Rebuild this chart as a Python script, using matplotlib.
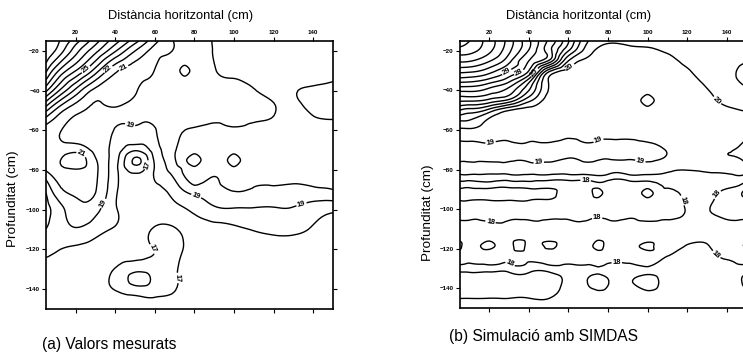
import numpy as np
import matplotlib
matplotlib.use('Agg')
import matplotlib.pyplot as plt
import matplotlib.tri as mtri

plt.rcParams['font.family'] = ['Liberation Sans', 'DejaVu Sans']

# grid nodes (cm)
x_nodes = [5, 10, 20, 30, 40, 50, 60, 70, 80, 90, 100, 110, 120, 130, 140, 150]

# ---- (a) Valors mesurats ----
depth_a = [-15, -20, -30, -40, -50, -60, -70, -80, -90, -100, -110, -120, -130, -140, -150]
values_a = [
    [32.0, 31.3, 29.4, 27.4, 25.4, 23.4, 21.3, 19.9, 19.5, 20.06, 20.5, 20.5, 20.5, 20.5, 20.5, 20.5],
    [31.7, 30.9, 28.4, 26.3, 24.1, 22.0, 20.6, 19.85, 19.5, 20.05, 20.5, 20.5, 20.5, 20.5, 20.5, 20.5],
    [30.2, 28.4, 26.0, 23.5, 21.2, 20.5, 19.95, 19.5, 19.5, 19.9, 20.3, 20.5, 20.5, 20.5, 20.5, 20.4],
    [27.2, 25.5, 22.7, 20.7, 20.5, 20.1, 19.5, 19.5, 19.5, 19.5, 19.5, 19.9, 20.4, 20.1, 19.8, 19.6],
    [23.2, 21.8, 20.3, 19.8, 19.8, 19.5, 19.5, 19.5, 19.5, 19.5, 19.5, 19.5, 19.9, 20.3, 19.8, 19.6],
    [20.5, 20.2, 19.6, 19.5, 18.95, 18.9, 18.95, 19.7, 20.2, 20.2, 20.2, 20.3, 20.45, 20.45, 20.45, 20.4],
    [20.6, 20.5, 20.7, 19.7, 18.6, 17.1, 18.5, 19.9, 20.45, 20.45, 20.45, 20.45, 20.45, 20.45, 20.45, 20.45],
    [20.1, 20.6, 20.9, 20.2, 18.3, 16.6, 18.1, 19.5, 20.4, 20.45, 20.4, 20.45, 20.45, 20.45, 20.45, 20.4],
    [18.15, 19.5, 20.15, 20.05, 18.2, 17.5, 17.6, 18.5, 19.5, 19.6, 20.1, 19.9, 19.8, 19.7, 19.8, 19.98],
    [17.75, 18.35, 19.6, 19.3, 18.1, 17.5, 17.4, 17.7, 18.2, 18.8, 18.9, 18.9, 18.9, 18.9, 18.5, 18.2],
    [18.02, 18.4, 18.9, 18.4, 17.9, 17.5, 16.9, 16.9, 17.5, 17.6, 17.8, 18.05, 18.2, 18.2, 17.9, 17.5],
    [18.3, 18.1, 17.8, 17.6, 17.4, 17.3, 16.95, 16.7, 17.5, 17.5, 17.5, 17.5, 17.6, 17.6, 17.5, 17.5],
    [17.5, 17.5, 17.5, 17.5, 16.95, 16.3, 16.5, 16.9, 17.5, 17.5, 17.5, 17.5, 17.5, 17.5, 17.5, 17.5],
    [17.5, 17.5, 17.5, 17.5, 16.95, 16.4, 16.5, 16.95, 17.5, 17.5, 17.5, 17.5, 17.5, 17.5, 17.5, 17.5],
    [17.5, 17.5, 17.5, 17.5, 17.5, 17.5, 17.5, 17.5, 17.5, 17.5, 17.5, 17.5, 17.5, 17.5, 17.5, 17.5],
]
# extra readings between the grid nodes (x, depth, value)
spots_a = [(75, -30, 20.3), (75, -25, 19.5), (75, -35, 19.5),
           (21, -76.5, 21.5),
           (80, -75, 19.5), (75, -75, 20.2), (85, -75, 20.45),
           (100, -75, 19.5), (95, -75, 20.45), (105, -75, 20.45),
           (51.5, -75.5, 15.8), (51, -135, 15.6)]
levels_a = list(range(15, 33))
label_pos_a = [(24.5, -28.6), (36, -28.6), (45, -30.5), (47, -59), (22.5, -72.6), (55.4, -77.5),
               (33.7, -96.7), (81.7, -91), (134, -97), (58.3, -120), (68.4, -134.7)]

# ---- (b) Simulació amb SIMDAS ----
depth_b = [-15, -20, -25, -30, -35, -40, -45, -50, -55, -60, -70, -74, -80, -84, -88, -92, -96,
           -101, -109, -114, -119, -123, -131, -137, -143, -150]
values_b = [
    [35.8, 35.0, 33.5, 31.5, 29.2, 26.8, 24.1, 21.0, 20.1, 20.2, 20.25, 20.3, 20.4, 20.5, 20.6, 20.7],
    [34.5, 34.3, 33.2, 31.2, 28.9, 26.5, 23.0, 20.4, 19.7, 19.8, 19.9, 20.05, 20.3, 20.5, 20.6, 20.8],
    [33.2, 33.1, 32.1, 30.3, 28.0, 25.9, 21.0, 19.8, 19.5, 19.6, 19.7, 19.85, 20.15, 20.4, 20.6, 20.9],
    [31.4, 31.3, 30.5, 29.0, 27.0, 21.5, 19.8, 19.5, 19.5, 19.5, 19.5, 19.7, 19.95, 20.3, 20.7, 21.4],
    [29.4, 29.3, 28.6, 27.3, 24.5, 19.95, 19.5, 19.5, 19.5, 19.5, 19.5, 19.6, 19.8, 20.15, 20.6, 21.3],
    [27.2, 27.2, 26.6, 25.6, 23.0, 19.95, 19.5, 19.5, 19.5, 19.5, 19.5, 19.5, 19.6, 19.95, 20.4, 20.8],
    [25.2, 25.2, 24.7, 23.7, 21.3, 19.6, 19.5, 19.5, 19.5, 19.5, 20.6, 19.5, 19.5, 19.75, 20.2, 20.4],
    [23.0, 22.6, 21.6, 20.05, 19.6, 19.5, 19.5, 19.5, 19.5, 19.5, 19.5, 19.5, 19.5, 19.6, 19.85, 20.05],
    [21.1, 21.0, 19.8, 19.5, 19.5, 19.5, 19.5, 19.5, 19.5, 19.5, 19.5, 19.5, 19.5, 19.5, 19.6, 19.7],
    [19.8, 19.85, 19.5, 19.5, 19.5, 19.5, 19.5, 19.5, 19.5, 19.5, 19.5, 19.5, 19.5, 19.5, 19.5, 19.5],
    [18.5, 18.5, 18.5, 18.5, 18.5, 18.5, 18.5, 18.5, 18.5, 18.5, 18.5, 19.05, 19.5, 19.5, 19.15, 18.5],
    [18.5, 18.5, 18.5, 18.5, 18.5, 18.5, 18.95, 18.5, 18.85, 18.8, 18.5, 19.1, 19.5, 19.5, 19.15, 18.5],
    [19.5, 19.5, 19.5, 19.5, 19.5, 19.5, 19.5, 19.5, 19.5, 19.5, 19.5, 19.3, 19.05, 19.3, 19.5, 19.3],
    [18.5, 18.5, 18.5, 18.5, 18.5, 18.5, 18.5, 18.5, 18.5, 18.5, 18.5, 18.5, 18.5, 18.5, 18.5, 18.5],
    [17.5, 17.35, 17.5, 17.35, 17.5, 17.35, 17.5, 17.5, 17.5, 17.5, 17.5, 18.15, 18.5, 18.5, 18.2, 17.5],
    [16.5, 16.5, 16.5, 16.5, 16.5, 16.7, 17.5, 17.5, 17.5, 17.5, 16.6, 17.7, 18.3, 18.35, 17.6, 16.5],
    [17.1, 17.1, 17.1, 17.1, 17.1, 17.1, 17.5, 17.5, 17.5, 17.5, 17.5, 17.6, 18.2, 18.2, 17.5, 17.3],
    [17.5, 17.5, 17.5, 17.5, 17.5, 17.5, 17.5, 17.5, 17.5, 17.5, 17.5, 17.5, 18.1, 18.1, 17.5, 17.5],
    [18.5, 18.5, 18.5, 18.5, 18.5, 18.5, 18.5, 18.5, 18.5, 18.5, 18.5, 18.5, 18.5, 18.5, 18.5, 18.5],
    [18.5, 18.5, 18.5, 18.5, 18.5, 18.5, 18.5, 18.5, 18.5, 18.5, 18.5, 18.5, 18.3, 18.3, 18.5, 18.5],
    [17.7, 18.5, 17.8, 18.5, 18.5, 17.85, 18.5, 18.5, 18.5, 18.5, 17.85, 18.5, 17.9, 17.9, 18.5, 17.75],
    [18.5, 18.5, 18.5, 18.5, 18.5, 18.5, 18.5, 18.5, 18.5, 18.5, 18.35, 18.1, 17.6, 17.7, 18.3, 18.5],
    [17.2, 17.2, 17.2, 17.2, 17.2, 17.2, 17.5, 17.5, 17.5, 17.5, 17.5, 17.5, 17.5, 17.5, 17.5, 17.3],
    [16.5, 16.5, 16.5, 16.5, 16.5, 16.5, 17.2, 16.95, 16.95, 17.2, 16.6, 17.4, 17.5, 17.5, 17.5, 16.7],
    [16.8, 16.8, 16.8, 16.8, 16.8, 16.8, 17.3, 17.3, 17.3, 17.5, 17.3, 17.5, 17.5, 17.5, 17.5, 17.3],
    [17.5, 17.5, 17.5, 17.5, 17.5, 17.5, 17.5, 17.5, 17.5, 17.5, 17.5, 17.5, 17.5, 17.5, 17.5, 17.5],
]
spots_b = [(95, -45, 19.5), (105, -45, 19.5),
           (75, -92, 16.6), (75, -88, 17.5), (75, -96, 17.5), (95, -92, 17.5), (105, -92, 17.5),
           (35, -119, 17.4), (35, -114, 18.5), (35, -123, 18.5),
           (75, -119, 17.6), (75, -114, 18.5), (75, -123, 18.5),
           (75, -137, 16.5), (75, -131, 17.5), (75, -143, 17.3)]
levels_b = list(range(16, 37))
label_pos_b = [(28.4, -30), (35, -31), (43, -31), (61, -28.6), (135, -45.3), (20.5, -65.8),
               (75, -65), (45.3, -78), (96, -77.3), (68.7, -86.6), (116.6, -95.8), (135, -92.5),
               (20.7, -105.7), (74.6, -105.7), (30.8, -127), (84.4, -125.9), (135, -122.7)]


def draw_panel(ax, depths, values, spots, levels, label_pos):
    gx, gy = np.meshgrid(x_nodes, depths)
    px = np.concatenate([gx.ravel(), [s[0] for s in spots]])
    py = np.concatenate([gy.ravel(), [s[1] for s in spots]])
    pz = np.concatenate([np.array(values).ravel(), [s[2] for s in spots]])
    tri = mtri.Triangulation(px, py)
    refiner = mtri.UniformTriRefiner(tri)
    tri_r, z_r = refiner.refine_field(pz, subdiv=3)
    cs = ax.tricontour(tri_r, z_r, levels=levels, colors='k', linewidths=1.0)
    lbl = ax.clabel(cs, levels, manual=label_pos, fmt='%d', fontsize=5.5, inline=True,
                    inline_spacing=1)
    for t in lbl:
        t.set_fontweight('bold')
    ax.set_xlim(5, 150)
    ax.set_ylim(-150, -15)
    ax.set_xticks([20, 40, 60, 80, 100, 120, 140])
    ax.set_yticks([-20, -40, -60, -80, -100, -120, -140])
    ax.tick_params(direction='out', length=3, width=0.8, top=True, bottom=True, left=True,
                   right=True, labeltop=True, labelbottom=False, labelleft=True,
                   labelright=False, labelsize=4.5, pad=1.5)
    for t in ax.get_xticklabels() + ax.get_yticklabels():
        t.set_fontweight('bold')
    for s in ax.spines.values():
        s.set_linewidth(1.2)


W, H = 743, 353
fig = plt.figure(figsize=(W / 100, H / 100), dpi=100)

ax_a = fig.add_axes([46 / W, (H - 309) / H, 287 / W, 268 / H])
draw_panel(ax_a, depth_a, values_a, spots_a, levels_a, label_pos_a)

ax_b = fig.add_axes([459.7 / W, (H - 308) / H, 286.7 / W, 267 / H])
draw_panel(ax_b, depth_b, values_b, spots_b, levels_b, label_pos_b)

fig.text(181 / W, 1 - 16 / H, 'Distància horitzontal (cm)', ha='center', va='center', fontsize=9.3)
fig.text(578.5 / W, 1 - 16 / H, 'Distància horitzontal (cm)', ha='center', va='center', fontsize=9.3)
fig.text(13 / W, 1 - 199 / H, 'Profunditat (cm)', ha='center', va='center', rotation=90, fontsize=9.7)
fig.text(428 / W, 1 - 213 / H, 'Profunditat (cm)', ha='center', va='center', rotation=90, fontsize=9.7)
fig.text(42 / W, 1 - 344 / H, '(a) Valors mesurats', ha='left', va='center', fontsize=11.2)
fig.text(449 / W, 1 - 336 / H, '(b) Simulació amb SIMDAS', ha='left', va='center', fontsize=11.2)

fig.savefig('out.png', dpi=100)
